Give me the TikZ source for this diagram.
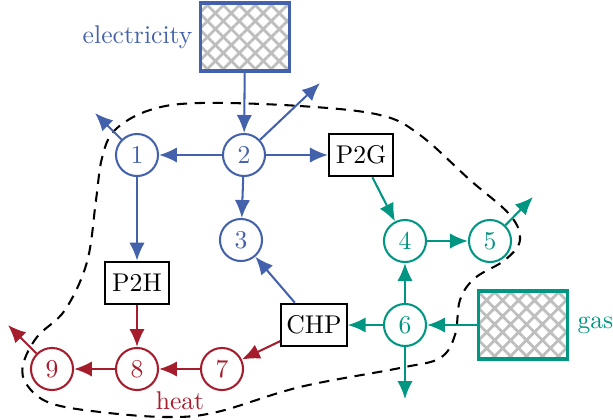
\documentclass[tikz,border=0pt]{standalone}
\usetikzlibrary{arrows.meta,patterns.meta}
\definecolor{eblue}{RGB}{68,98,172}
\definecolor{gteal}{RGB}{0,150,130}
\definecolor{hred}{RGB}{165,28,44}
\definecolor{hatch}{RGB}{190,190,190}
\begin{document}
\begin{tikzpicture}[x=0.39pt,y=-0.39pt,
  bus/.style={circle,draw,line width=0.8pt,minimum size=16.4pt,inner sep=0pt,fill=white},
  conv/.style={draw=black,line width=0.8pt,minimum width=25pt,minimum height=16.6pt,inner sep=2pt,fill=white},
  src/.style={line width=1.2pt,minimum width=33.5pt,minimum height=25.3pt,inner sep=0pt},
  arr/.style={line width=0.8pt,-{Latex[length=7pt,width=6pt]}},
  hatchA/.style={pattern={Lines[angle=45,distance=4.4pt,line width=1.1pt]},pattern color=hatch},
  hatchB/.style={pattern={Lines[angle=-45,distance=4.4pt,line width=1.1pt]},pattern color=hatch},
  boundary/.style={line width=0.8pt,dash pattern=on 4pt off 3pt}
]
\useasboundingbox (0,0) rectangle (613,420);
% boundary
\draw[boundary] plot[smooth cycle,tension=0.6] coordinates {
 (200,103) (300,106) (380,115) (420,135) (470,180) (510,215) (520,240)
 (505,260) (475,278) (460,300) (455,335) (440,358) (400,368) (300,387)
 (217,412) (167,417) (100,412) (50,403) (27,385) (23,365) (37,337)
 (65,310) (87,262) (96,200) (102,158) (115,130) (150,110)};
% sources
\node[src] (el) at (245,37) {};
\path[hatchA] (el.south west) rectangle (el.north east);
\path[hatchB] (el.south west) rectangle (el.north east);
\draw[eblue,line width=1.2pt] (el.south west) rectangle (el.north east);
\node[src] (gs) at (523,325) {};
\path[hatchA] (gs.south west) rectangle (gs.north east);
\path[hatchB] (gs.south west) rectangle (gs.north east);
\draw[gteal,line width=1.2pt] (gs.south west) rectangle (gs.north east);
\node[eblue,anchor=east,inner sep=0pt] (elab) at (193,37) {electricity};
\node[gteal,anchor=west,inner sep=0pt] (glab) at (577,325) {gas};
\node[hred] (hlab) at (180,401) {heat};
% buses
\node[bus,draw=eblue,text=eblue] (n1) at (137,155) {1};
\node[bus,draw=eblue,text=eblue] (n2) at (244,155) {2};
\node[bus,draw=eblue,text=eblue] (n3) at (241,240) {3};
\node[bus,draw=gteal,text=gteal] (n4) at (405,241) {4};
\node[bus,draw=gteal,text=gteal] (n5) at (490,241) {5};
\node[bus,draw=gteal,text=gteal] (n6) at (405,325) {6};
\node[bus,draw=hred,text=hred] (n7) at (222,369) {7};
\node[bus,draw=hred,text=hred] (n8) at (137,369) {8};
\node[bus,draw=hred,text=hred] (n9) at (52,369) {9};
% converters
\node[conv] (p2g) at (361,155) {P2G};
\node[conv] (p2h) at (137,283) {P2H};
\node[conv] (chp) at (314,325) {CHP};
% free ends
\coordinate (o1) at (95,113);
\coordinate (o2) at (320,83);
\coordinate (o5) at (533,197);
\coordinate (o6) at (405,399);
\coordinate (o9) at (8,325);
% electricity arrows
\draw[arr,eblue] (el) -- (n2);
\draw[arr,eblue] (n2) -- (n1);
\draw[arr,eblue] (n2) -- (p2g);
\draw[arr,eblue] (n2) -- (n3);
\draw[arr,eblue] (n2) -- (o2);
\draw[arr,eblue] (n1) -- (o1);
\draw[arr,eblue] (n1) -- (p2h);
\draw[arr,eblue] (chp) -- (n3);
% gas arrows
\draw[arr,gteal] (p2g) -- (n4);
\draw[arr,gteal] (n4) -- (n5);
\draw[arr,gteal] (n5) -- (o5);
\draw[arr,gteal] (n6) -- (n4);
\draw[arr,gteal] (n6) -- (chp);
\draw[arr,gteal] (gs) -- (n6);
\draw[arr,gteal] (n6) -- (o6);
% heat arrows
\draw[arr,hred] (chp) -- (n7);
\draw[arr,hred] (n7) -- (n8);
\draw[arr,hred] (n8) -- (n9);
\draw[arr,hred] (p2h) -- (n8);
\draw[arr,hred] (n9) -- (o9);
\end{tikzpicture}
\end{document}
